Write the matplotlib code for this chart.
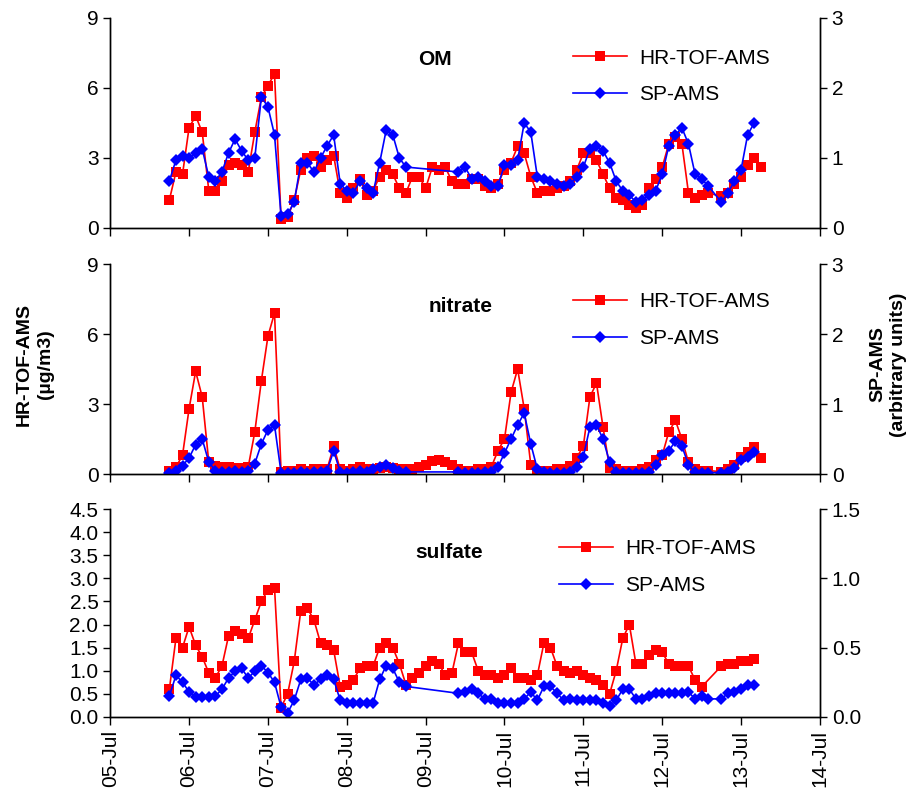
import matplotlib
matplotlib.use("Agg")
import matplotlib.pyplot as plt
import matplotlib.dates as mdates
import numpy as np
import pandas as pd

plt.rcParams["font.family"] = ["Liberation Sans", "DejaVu Sans"]

# two-hourly samples, 05-Jul 18:00 onwards
times = pd.date_range("2012-07-05 18:00", periods=91, freq="2h")
nan = np.nan

# OM: HR-TOF-AMS (ug/m3, left axis), SP-AMS (arbitrary units, right axis)
om_hr = [1.2, 2.4, 2.3, 4.3, 4.8, 4.1, 1.6, 1.6, 2.0, 2.7, 2.8, 2.7, 2.4, 4.1, 5.6, 6.1, 6.6, 0.4, 0.45, 1.2,
         2.5, 3.0, 3.1, 2.6, 2.9, 3.1, 1.5, 1.3, 1.7, 2.1, 1.4, 1.6, 2.2, 2.5, 2.3, 1.7, 1.5, 2.2, 2.2, 1.7,
         2.6, 2.5, 2.6, 2.0, 1.9, 1.9, 2.1, 2.1, 1.8, 1.7, 1.9, 2.5, 2.8, 3.5, 3.2, 2.2, 1.5, 1.6, 1.6, 1.7,
         1.8, 2.0, 2.5, 3.2, 3.2, 2.9, 2.3, 1.7, 1.3, 1.2, 1.0, 0.85, 1.0, 1.7, 2.1, 2.6, 3.6, 3.9, 3.6, 1.5,
         1.3, 1.4, 1.5, nan, 1.35, 1.5, 1.9, 2.2, 2.7, 3.0, 2.6]
om_sp = [0.67, 0.97, 1.03, 1.0, 1.07, 1.13, 0.73, 0.67, 0.8, 1.07, 1.27, 1.1, 0.97, 1.0, 1.87, 1.73, 1.33, 0.17, 0.2, 0.37,
         0.93, 0.93, 0.8, 1.0, 1.17, 1.33, 0.63, 0.53, 0.5, 0.67, 0.57, 0.5, 0.93, 1.4, 1.33, 1.0, 0.87, nan, nan, nan,
         nan, nan, nan, nan, 0.8, 0.87, 0.7, 0.73, 0.67, 0.6, 0.6, 0.9, 0.9, 0.97, 1.5, 1.37, 0.73, 0.7, 0.67, 0.63,
         0.6, 0.63, 0.73, 0.87, 1.13, 1.17, 1.1, 0.93, 0.67, 0.53, 0.47, 0.37, 0.4, 0.47, 0.53, 0.77, 1.17, 1.33, 1.43, 1.2,
         0.77, 0.7, 0.6, nan, 0.37, 0.5, 0.67, 0.83, 1.33, 1.5, nan]

# nitrate
no3_hr = [0.15, 0.3, 0.8, 2.8, 4.4, 3.3, 0.5, 0.35, 0.3, 0.3, 0.25, 0.25, 0.3, 1.8, 4.0, 5.9, 6.9, 0.1, 0.15, 0.15,
          0.2, 0.15, 0.2, 0.2, 0.2, 1.2, 0.2, 0.15, 0.2, 0.3, 0.2, 0.2, 0.25, 0.3, 0.25, 0.2, 0.2, 0.2, 0.3, 0.4,
          0.55, 0.6, 0.5, 0.4, 0.2, 0.15, 0.15, 0.2, 0.2, 0.3, 1.0, 1.5, 3.5, 4.5, 2.8, 0.4, 0.15, 0.15, 0.15, 0.2,
          0.2, 0.35, 0.7, 1.2, 3.3, 3.9, 2.0, 0.25, 0.2, 0.15, 0.15, 0.15, 0.2, 0.3, 0.6, 0.8, 1.8, 2.3, 1.5, 0.5,
          0.2, 0.15, 0.15, nan, 0.1, 0.2, 0.4, 0.75, 0.95, 1.15, 0.7]
no3_sp = [0.02, 0.05, 0.12, 0.23, 0.42, 0.5, 0.17, 0.05, 0.03, 0.03, 0.05, 0.03, 0.05, 0.15, 0.43, 0.63, 0.7, 0.02, 0.02, 0.02,
          0.03, 0.02, 0.03, 0.03, 0.05, 0.33, 0.03, 0.02, 0.03, 0.05, 0.03, 0.07, 0.1, 0.13, 0.08, 0.05, 0.03, nan, nan, nan,
          nan, nan, nan, nan, 0.03, 0.02, 0.02, 0.02, 0.03, 0.03, 0.1, 0.3, 0.5, 0.7, 0.87, 0.43, 0.07, 0.03, 0.02, 0.02,
          0.02, 0.03, 0.1, 0.25, 0.67, 0.7, 0.5, 0.17, 0.03, 0.02, 0.02, 0.02, 0.02, 0.03, 0.13, 0.27, 0.33, 0.47, 0.4, 0.13,
          0.03, 0.02, 0.02, nan, 0.02, 0.03, 0.08, 0.2, 0.25, 0.32, nan]

# sulfate
so4_hr = [0.6, 1.7, 1.5, 1.95, 1.55, 1.3, 0.95, 0.85, 1.1, 1.75, 1.85, 1.8, 1.7, 2.1, 2.5, 2.75, 2.8, 0.2, 0.5, 1.2,
          2.3, 2.35, 2.1, 1.6, 1.55, 1.45, 0.65, 0.7, 0.8, 1.05, 1.1, 1.1, 1.5, 1.6, 1.5, 1.15, 0.7, 0.85, 0.95, 1.1,
          1.2, 1.15, 0.9, 0.95, 1.6, 1.4, 1.4, 1.0, 0.9, 0.9, 0.85, 0.9, 1.05, 0.85, 0.85, 0.8, 0.9, 1.6, 1.5, 1.1,
          1.0, 0.95, 1.0, 0.9, 0.85, 0.8, 0.7, 0.5, 1.0, 1.7, 2.0, 1.15, 1.15, 1.35, 1.45, 1.4, 1.15, 1.1, 1.1, 1.1,
          0.8, 0.65, nan, nan, 1.1, 1.15, 1.15, 1.2, 1.2, 1.25, nan]
so4_sp = [0.15, 0.3, 0.25, 0.18, 0.14, 0.14, 0.14, 0.15, 0.2, 0.28, 0.33, 0.35, 0.28, 0.33, 0.37, 0.32, 0.25, 0.07, 0.03, 0.12,
          0.27, 0.28, 0.23, 0.27, 0.3, 0.27, 0.12, 0.1, 0.1, 0.1, 0.1, 0.1, 0.27, 0.37, 0.35, 0.25, 0.22, nan, nan, nan,
          nan, nan, nan, nan, 0.17, 0.18, 0.2, 0.17, 0.13, 0.13, 0.1, 0.1, 0.1, 0.1, 0.13, 0.18, 0.12, 0.22, 0.22, 0.17,
          0.12, 0.13, 0.12, 0.12, 0.12, 0.12, 0.1, 0.08, 0.12, 0.2, 0.2, 0.13, 0.13, 0.15, 0.17, 0.17, 0.17, 0.17, 0.17, 0.18,
          0.13, 0.15, 0.13, nan, 0.13, 0.17, 0.18, 0.2, 0.23, 0.23, nan]

panels = [
    ("OM", om_hr, om_sp, (0, 9), [0, 3, 6, 9], (0, 3), [0, 1, 2, 3], "%d"),
    ("nitrate", no3_hr, no3_sp, (0, 9), [0, 3, 6, 9], (0, 3), [0, 1, 2, 3], "%d"),
    ("sulfate", so4_hr, so4_sp, (0, 4.5), np.arange(0, 4.51, 0.5), (0, 1.5), [0, 0.5, 1.0, 1.5], "%.1f"),
]
boxes = [(0.121, 0.7154, 0.779, 0.2622), (0.121, 0.4082, 0.779, 0.2622), (0.121, 0.105, 0.779, 0.2595)]
legend_anchor = [(0.64, 0.893), (0.64, 0.905), (0.62, 0.895)]
title_pos = [(0.457, 0.80), (0.494, 0.80), (0.478, 0.79)]

fig = plt.figure(figsize=(9.11, 8.01), dpi=100)

for i, (name, hr, sp, ylim, yticks, ylim2, yticks2, fmt) in enumerate(panels):
    ax = fig.add_axes(boxes[i])
    ax2 = ax.twinx()
    hr = pd.Series(hr, index=times).dropna()
    sp = pd.Series(sp, index=times).dropna()
    l1, = ax.plot(hr.index, hr.values, color="#FF0000", marker="s", markersize=7, lw=1.2,
                  markeredgewidth=0, label="HR-TOF-AMS")
    l2, = ax2.plot(sp.index, sp.values, color="#0000FF", marker="D", markersize=6, lw=1.2,
                   markeredgewidth=0, label="SP-AMS")

    ax.set_ylim(*ylim)
    ax.set_yticks(yticks)
    ax.yaxis.set_major_formatter(matplotlib.ticker.FormatStrFormatter(fmt))
    ax2.set_ylim(*ylim2)
    ax2.set_yticks(yticks2)
    ax2.yaxis.set_major_formatter(matplotlib.ticker.FormatStrFormatter("%d" if fmt == "%d" else "%.1f"))

    ax.set_xlim(pd.Timestamp("2012-07-05"), pd.Timestamp("2012-07-14"))
    ax.xaxis.set_major_locator(mdates.DayLocator())
    ax.xaxis.set_major_formatter(mdates.DateFormatter("%d-%b"))

    for a in (ax, ax2):
        a.spines["top"].set_visible(False)
        a.tick_params(direction="out", length=5, width=1, labelsize=15)
        for s in a.spines.values():
            s.set_linewidth(1)
    ax.tick_params(axis="x", direction="out", length=6)
    if i < 2:
        ax.tick_params(axis="x", labelbottom=False)
    else:
        plt.setp(ax.get_xticklabels(), rotation=90)

    ax2.text(title_pos[i][0], title_pos[i][1], name, transform=ax.transAxes,
             fontsize=15, fontweight="bold", ha="center", va="center")
    ax2.legend([l1, l2], ["HR-TOF-AMS", "SP-AMS"], loc="upper left", bbox_to_anchor=legend_anchor[i],
               frameon=False, fontsize=15, handlelength=2.6, handletextpad=0.6, labelspacing=0.85,
               borderaxespad=0)

fig.text(0.038, 0.545, "HR-TOF-AMS\n(\u00b5g/m3)", rotation=90, fontsize=14, fontweight="bold",
         ha="center", va="center", linespacing=1.3)
fig.text(0.975, 0.545, "SP-AMS\n(arbitrary units)", rotation=90, fontsize=14, fontweight="bold",
         ha="center", va="center", linespacing=1.3)

fig.savefig("out.png", dpi=100)
